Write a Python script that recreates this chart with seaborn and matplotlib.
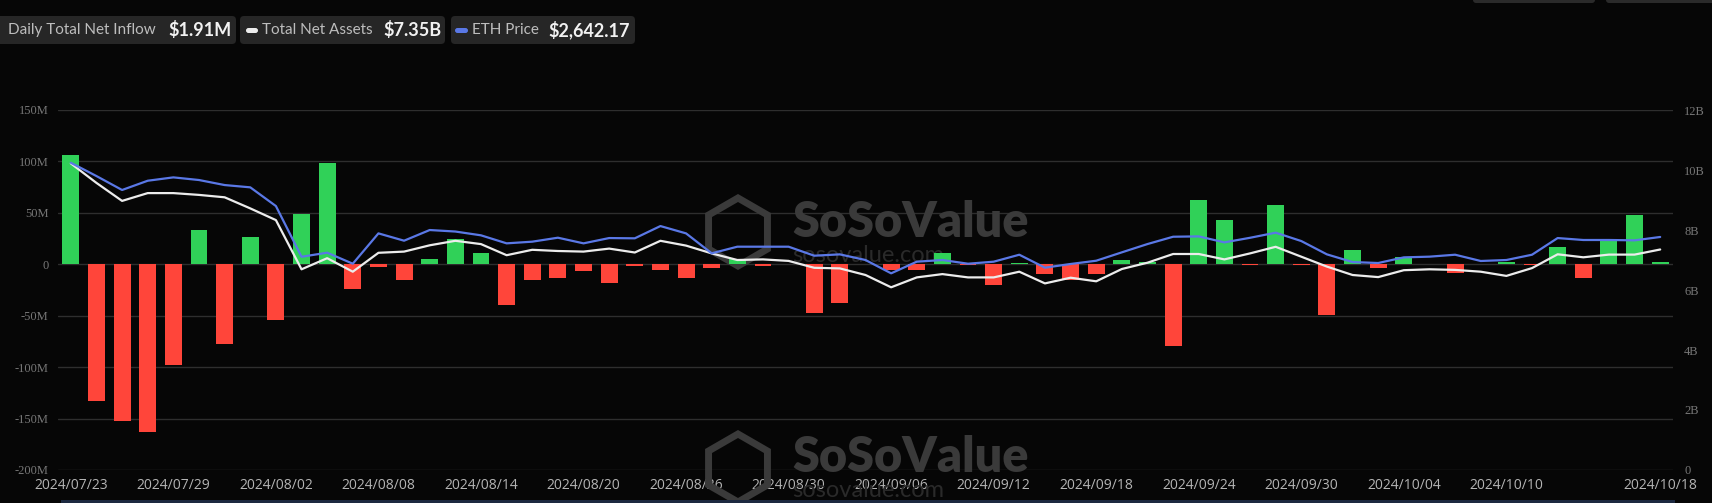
import numpy as np
import pandas as pd
import matplotlib
matplotlib.use("Agg")
import matplotlib.pyplot as plt
import seaborn as sns
from matplotlib.patches import FancyBboxPatch, RegularPolygon, Rectangle
from matplotlib.transforms import IdentityTransform

# ETH spot ETF daily data, 2024/07/23 - 2024/10/18
dates = ['2024/07/23', '2024/07/24', '2024/07/25', '2024/07/26', '2024/07/29', '2024/07/30', '2024/07/31',
         '2024/08/01', '2024/08/02', '2024/08/05', '2024/08/06', '2024/08/07', '2024/08/08', '2024/08/09',
         '2024/08/12', '2024/08/13', '2024/08/14', '2024/08/15', '2024/08/16', '2024/08/19', '2024/08/20',
         '2024/08/21', '2024/08/22', '2024/08/23', '2024/08/26', '2024/08/27', '2024/08/28', '2024/08/29',
         '2024/08/30', '2024/09/03', '2024/09/04', '2024/09/05', '2024/09/06', '2024/09/09', '2024/09/10',
         '2024/09/11', '2024/09/12', '2024/09/13', '2024/09/16', '2024/09/17', '2024/09/18', '2024/09/19',
         '2024/09/20', '2024/09/23', '2024/09/24', '2024/09/25', '2024/09/26', '2024/09/27', '2024/09/30',
         '2024/10/01', '2024/10/02', '2024/10/03', '2024/10/04', '2024/10/07', '2024/10/08', '2024/10/09',
         '2024/10/10', '2024/10/11', '2024/10/14', '2024/10/15', '2024/10/16', '2024/10/17', '2024/10/18']

# daily total net inflow, $M
inflow = [106.6, -133.3, -152.3, -162.7, -98.3, 33.7, -77.2, 26.7, -54.3, 48.8, 98.4, -23.7, -2.9, -15.7,
          4.9, 24.3, 10.8, -39.2, -14.9, -13.6, -6.5, -18.1, -1.2, -5.8, -13.3, -3.5, 4.9, -1.8,
          0.0, -47.6, -37.6, 0.0, -5.8, -5.2, 10.7, -0.5, -20.4, 1.0, -9.7, -14.9, -9.7, 4.5,
          2.0, -79.7, 62.2, 42.8, -0.3, 58.0, -0.5, -48.9, 13.6, -3.6, 6.8, 0.0, -8.4, 0.0,
          2.3, -0.5, 16.5, -13.0, 23.3, 47.6, 1.91]

# total net assets, $B
assets = [10.22, 9.57, 8.97, 9.23, 9.23, 9.17, 9.09, 8.72, 8.33, 6.69, 7.06, 6.61, 7.24, 7.28,
          7.49, 7.64, 7.53, 7.16, 7.34, 7.30, 7.28, 7.38, 7.25, 7.64, 7.48, 7.22, 7.00, 7.02,
          6.97, 6.74, 6.72, 6.50, 6.09, 6.42, 6.53, 6.42, 6.42, 6.61, 6.22, 6.41, 6.29, 6.70,
          6.91, 7.20, 7.20, 7.02, 7.22, 7.44, 7.11, 6.78, 6.50, 6.43, 6.66, 6.69, 6.67, 6.61,
          6.47, 6.73, 7.19, 7.09, 7.18, 7.18, 7.35]

# ETH price, $
price = [3484, 3333, 3175, 3280, 3318, 3288, 3231, 3205, 2993, 2418, 2464, 2339, 2683, 2600,
         2721, 2704, 2661, 2570, 2589, 2634, 2570, 2630, 2627, 2766, 2683, 2457, 2532, 2532,
         2532, 2430, 2445, 2381, 2230, 2362, 2381, 2339, 2362, 2441, 2294, 2336, 2373, 2468,
         2562, 2645, 2649, 2581, 2633, 2691, 2596, 2445, 2358, 2347, 2411, 2419, 2441, 2370,
         2381, 2441, 2630, 2608, 2608, 2604, 2642.17]

left_ticks = [-200, -150, -100, -50, 0, 50, 100, 150]
left_labels = ['-200M', '-150M', '-100M', '-50M', '0', '50M', '100M', '150M']
right_ticks = [0, 2, 4, 6, 8, 10, 12]
right_labels = ['0', '2B', '4B', '6B', '8B', '10B', '12B']
shown_ticks = [0, 4, 8, 12, 16, 20, 24, 28, 32, 36, 40, 44, 48, 52, 56, 62]

BG = '#060606'
GREEN = '#30d158'
RED = '#ff453a'
BLUE = '#5a78e6'
WHITE = '#ececec'
W, H = 1712, 503

sns.set_theme(style='dark')
plt.rcParams['font.family'] = ['Lato', 'DejaVu Sans']

df = pd.DataFrame({'date': dates, 'inflow': inflow})
df['dir'] = np.where(df['inflow'] >= 0, 'up', 'down')

fig = plt.figure(figsize=(W / 100, H / 100), dpi=100, facecolor=BG)
ax = fig.add_axes([58 / W, 33 / H, 1615 / W, 360 / H])
ax.set_facecolor(BG)

sns.barplot(data=df, x='date', y='inflow', hue='dir', order=dates,
            palette={'up': GREEN, 'down': RED}, width=0.66, dodge=False,
            saturation=1, legend=False, ax=ax, zorder=2, linewidth=0, edgecolor='none')
ax.set_xlim(-0.5, len(dates) - 0.5)
ax.set_ylim(-200, 150)
ax.set_yticks(left_ticks)
ax.set_yticklabels(left_labels, fontfamily='Liberation Serif', fontsize=9, color='#777777')
ax.set_xticks(shown_ticks)
ax.set_xticklabels([dates[i] for i in shown_ticks], fontfamily='Open Sans', fontsize=10, color='#b4b4b4')
ax.tick_params(axis='y', length=0, pad=7)
ax.tick_params(axis='x', length=0, pad=6)
ax.yaxis.grid(True, color='#2e2e2e', lw=1)
ax.xaxis.grid(False)
ax.set_axisbelow(True)
ax.set_xlabel('')
ax.set_ylabel('')
for s in ax.spines.values():
    s.set_visible(False)

# total net assets on the right axis
ax2 = ax.twinx()
sns.lineplot(x=np.arange(len(dates)), y=assets, color=WHITE, lw=1.6, ax=ax2)
ax2.set_ylim(0, 12)
ax2.set_yticks(right_ticks)
ax2.set_yticklabels(right_labels, fontfamily='Liberation Serif', fontsize=9, color='#777777')
ax2.tick_params(axis='y', length=0, pad=8)
ax2.grid(False)
for s in ax2.spines.values():
    s.set_visible(False)

# ETH price on a hidden axis
ax3 = ax.twinx()
sns.lineplot(x=np.arange(len(dates)), y=price, color=BLUE, lw=1.6, ax=ax3)
ax3.set_ylim(0, 4082)
ax3.set_yticks([])
ax3.grid(False)
for s in ax3.spines.values():
    s.set_visible(False)
ax.set_xlim(-0.5, len(dates) - 0.5)

ident = IdentityTransform()

# watermarks
for cy, base, sub in [(232, 237, 262), (468, 472, 497)]:
    ax.add_patch(RegularPolygon((738, H - cy), numVertices=6, radius=34, fill=False,
                                edgecolor='#3a3a3a', lw=5, transform=ident, zorder=1, clip_on=False))
    ax.text(792, H - base, 'SoSoValue', fontsize=35, fontweight='heavy', color='#3a3a3a',
            va='baseline', ha='left', transform=ident, zorder=1, clip_on=False)
    ax.text(792, H - sub, 'sosovalue.com', fontsize=17, color='#2a2a2a',
            va='baseline', ha='left', transform=ident, zorder=1, clip_on=False)

# header legend boxes
def box(x0, x1):
    fig.patches.append(FancyBboxPatch((x0, H - 44), x1 - x0, 28, boxstyle='round,pad=0,rounding_size=4',
                                      facecolor='#262626', edgecolor='none', transform=ident))

def pill(x0, x1, color):
    fig.patches.append(FancyBboxPatch((x0, H - 33), x1 - x0, 5, boxstyle='round,pad=0,rounding_size=2.5',
                                      facecolor=color, edgecolor='none', transform=ident))

box(-6, 236)
box(240, 445)
box(451, 635)
pill(246, 258, WHITE)
pill(455, 468, BLUE)
fig.text(8, H - 30, 'Daily Total Net Inflow', fontsize=11, color='#bdbdbd', va='center', transform=ident)
fig.text(168, H - 30, '$1.91M', fontsize=13, fontweight='bold', color='#f2f2f2', va='center', transform=ident)
fig.text(262, H - 30, 'Total Net Assets', fontsize=11, color='#bdbdbd', va='center', transform=ident)
fig.text(383, H - 30, '$7.35B', fontsize=13, fontweight='bold', color='#f2f2f2', va='center', transform=ident)
fig.text(472, H - 30, 'ETH Price', fontsize=11, color='#bdbdbd', va='center', transform=ident)
fig.text(548, H - 30, '$2,642.17', fontsize=13, fontweight='bold', color='#f2f2f2', va='center', transform=ident)

# cut-off buttons at top right and zoom slider strip at bottom
fig.patches.append(FancyBboxPatch((1473, H - 3), 122, 6, boxstyle='round,pad=0,rounding_size=3',
                                  facecolor='#2a2a2a', edgecolor='none', transform=ident))
fig.patches.append(FancyBboxPatch((1606, H - 3), 110, 6, boxstyle='round,pad=0,rounding_size=3',
                                  facecolor='#2a2a2a', edgecolor='none', transform=ident))
fig.patches.append(Rectangle((61, 0), 1614, 3, facecolor='#1c2940', edgecolor='none', transform=ident))

fig.savefig('out.png', dpi=100, facecolor=BG)
